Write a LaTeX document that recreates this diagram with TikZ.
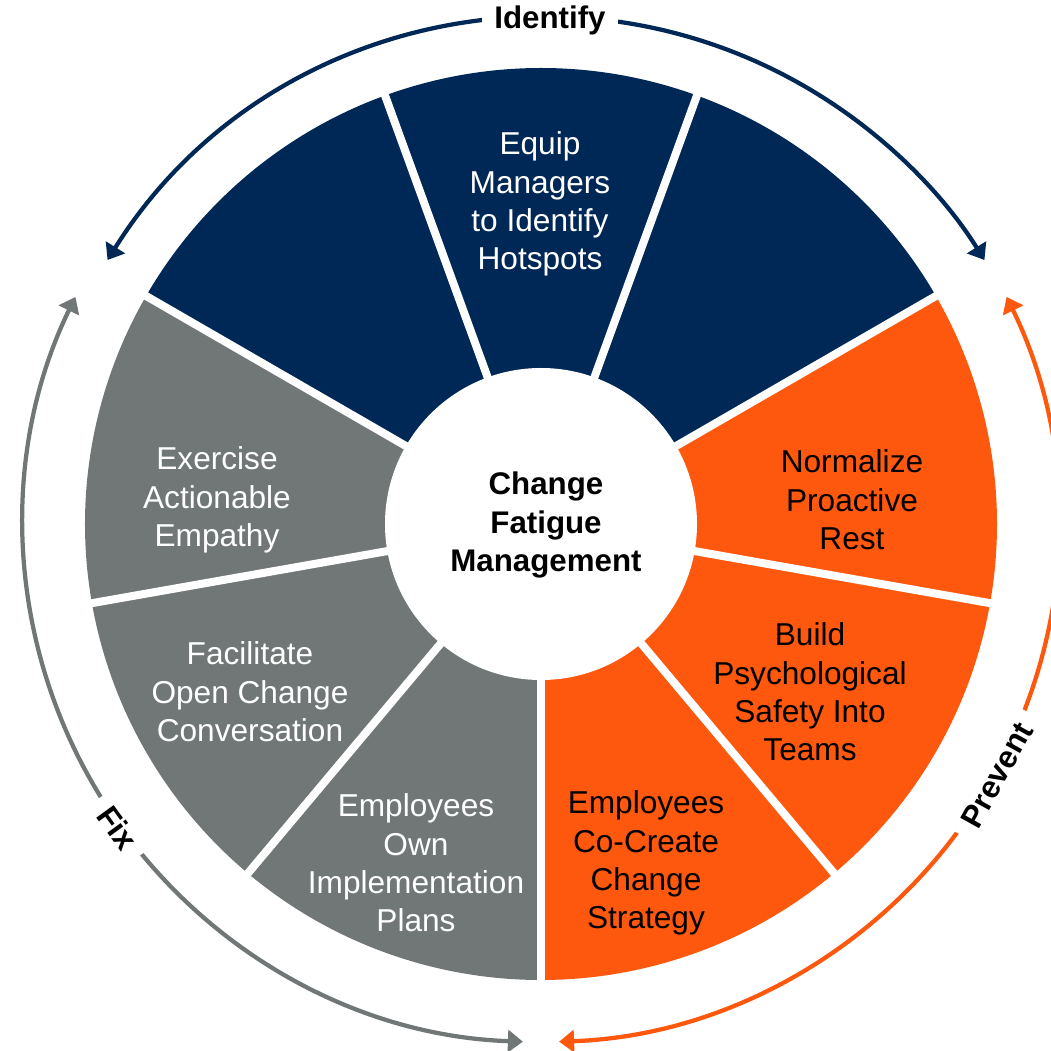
\documentclass[tikz,border=0pt]{standalone}
\usepackage{fontspec}
\setmainfont{Liberation Sans}
\usetikzlibrary{arrows.meta}
\definecolor{navy}{RGB}{0,40,86}
\definecolor{fireorange}{RGB}{254,88,14}
\definecolor{slate}{RGB}{112,119,118}

\begin{document}
\begin{tikzpicture}[x=0.2mm,y=0.2mm,
	seg/.style={align=center,font=\fontsize{18}{21.8}\selectfont},
	cyc/.style={line width=0.85mm,{Triangle[length=3mm,width=4.4mm]}-{Triangle[length=3mm,width=4.4mm]}},
	tag/.style={fill=white,inner sep=2.5mm,font=\bfseries\fontsize{17.8}{21}\selectfont}]
	\useasboundingbox (-541,-527) rectangle (510,524);
	\foreach \a/\c in {-90/fireorange,-50/fireorange,-10/fireorange,30/navy,70/navy,110/navy,150/slate,190/slate,230/slate}
	    \fill[\c] (0,0) -- (\a:456) arc[start angle=\a,delta angle=40,radius=456] -- cycle;%wedges
	\foreach \a in {-90,-50,...,230}
	    \draw[white,line width=1.6mm] (0,0) -- (\a:470);%gaps
	\fill[white] (0,0) circle[radius=156];%hub
	\node[align=center,font=\bfseries\fontsize{17.8}{21.8}\selectfont] (hub) at (5,-1) {Change\\Fatigue\\Management};
	\node[seg,text=white] (equip) at (-1,320) {Equip\\Managers\\to Identify\\Hotspots};
	\node[seg] (normalize) at (311,24) {Normalize\\Proactive\\Rest};
	\node[seg] (build) at (269,-168) {Build\\Psychological\\Safety Into\\Teams};
	\node[seg] (cocreate) at (105,-339) {Employees\\Co-Create\\Change\\Strategy};
	\node[seg,text=white] (own) at (-125,-339) {Employees\\Own\\Implementation\\Plans};
	\node[seg,text=white] (facilitate) at (-291,-168) {Facilitate\\Open Change\\Conversation};
	\node[seg,text=white] (exercise) at (-324,24) {Exercise\\Actionable\\Empathy};
	%outer cycle
	\draw[cyc,navy] ([shift={(5,-10)}]148:517) arc[start angle=148,end angle=32,radius=517];
	\node[tag] (identify) at (9,504) {Identify};
	\draw[cyc,slate] (268:518) arc[start angle=268,end angle=154,radius=518];
	\node[tag,rotate=-54] (fix) at (-423,-304) {Fix};
	\draw[cyc,fireorange] (26:518) arc[start angle=26,end angle=-88,radius=518];
	\node[tag,rotate=61] (prevent) at (456,-251) {Prevent};
\end{tikzpicture}
\end{document}
